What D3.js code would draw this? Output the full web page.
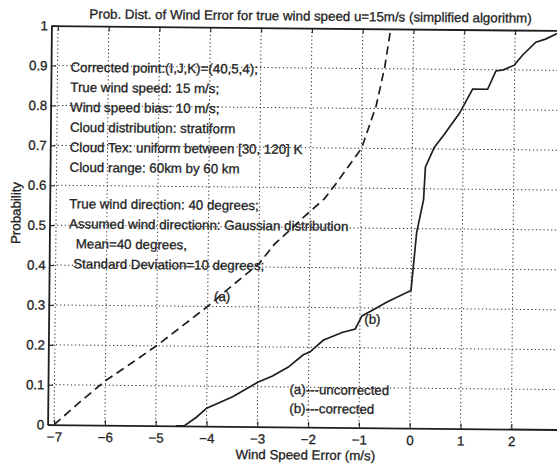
<!DOCTYPE html>
<html>
<head>
<meta charset="utf-8">
<script src="https://cdn.jsdelivr.net/npm/d3@7"></script>
<style>
  html, body { margin: 0; padding: 0; background: #fff; }
  svg { display: block; font-family: "Liberation Sans", Arial, Helvetica, sans-serif; }
  text { fill: #222; stroke: #222; stroke-width: 0.3; }
</style>
</head>
<body>
<svg id="chart" width="557" height="468"></svg>
<script>
// Cumulative probability of wind speed error
// (a) uncorrected
const errUncorrected = [-7, -6.5, -6, -5.5, -5, -4.5, -4, -3.5, -3, -2.7, -2.1, -1.72, -1.5, -1.0, -0.72, -0.56, -0.46, -0.44];
const probUncorrected = [0, 0.057, 0.111, 0.155, 0.2, 0.25, 0.3, 0.355, 0.408, 0.457, 0.529, 0.573, 0.61, 0.7, 0.807, 0.904, 0.99, 1.0];

// (b) corrected
const errCorrected = [-4.6, -4.44, -4.2, -4.0, -3.49, -3.0, -2.71, -2.4, -2.11, -1.98, -1.72, -1.35, -1.09, -0.96, -0.73, -0.46, 0, 0.1, 0.23, 0.26, 0.43, 0.62, 0.92, 1.175, 1.47, 1.63, 1.78, 1.99, 2.15, 2.41, 2.6, 2.79, 2.95];
const probCorrected = [0, 0, 0.022, 0.045, 0.074, 0.111, 0.127, 0.15, 0.181, 0.188, 0.218, 0.238, 0.247, 0.28, 0.296, 0.316, 0.345, 0.49, 0.573, 0.654, 0.704, 0.736, 0.79, 0.851, 0.851, 0.897, 0.9, 0.912, 0.937, 0.97, 0.978, 0.99, 1.0];

// Axis ticks
const xTicks = [-7, -6, -5, -4, -3, -2, -1, 0, 1, 2, 3];
const xTickLabels = [-7, -6, -5, -4, -3, -2, -1, 0, 1, 2];
const yTicks = [0, 0.1, 0.2, 0.3, 0.4, 0.5, 0.6, 0.7, 0.8, 0.9, 1];

// Texts
const titleText = "Prob. Dist. of Wind Error for true wind speed u=15m/s (simplified algorithm)";
const xLabel = "Wind Speed Error (m/s)";
const yLabel = "Probability";
const noteLines = [
  "Corrected point:(I,J,K)=(40,5,4);",
  "True wind speed: 15 m/s;",
  "Wind speed bias: 10 m/s;",
  "Cloud distribution: stratiform",
  "Cloud Tex: uniform between [30, 120] K",
  "Cloud range: 60km by 60 km",
  "",
  "True wind direction: 40 degrees;",
  "Assumed wind directionn: Gaussian distribution",
  "   Mean=40 degrees,",
  "  Standard Deviation=10 degrees;"
];
const legendLines = ["(a)---uncorrected", "(b)---corrected"];

const svg = d3.select("#chart");
// the whole printed figure sits very slightly tilted on the page
const page = svg.append("g").attr("transform", "rotate(0.55,300,228)");

const plotLeft = 49.5, plotRight = 564, plotTop = 28, plotBottom = 427;
const x = d3.scaleLinear().domain([-7.128, 3]).range([plotLeft, plotRight]);
const y = d3.scaleLinear().domain([0, 1]).range([plotBottom, plotTop]);

const ink = "#1e1e1e";
const fs = 13.3;

// Grid (dotted)
const grid = page.append("g").attr("stroke", "#2a2a2a").attr("stroke-width", 1).attr("stroke-dasharray", "1.2,2.6");
grid.selectAll("line.vx").data(xTicks).join("line")
  .attr("x1", d => x(d)).attr("x2", d => x(d))
  .attr("y1", plotTop).attr("y2", plotBottom);
grid.selectAll("line.hy").data(yTicks.filter(d => d > 0 && d < 1)).join("line")
  .attr("x1", plotLeft).attr("x2", plotRight)
  .attr("y1", d => y(d)).attr("y2", d => y(d));

// Axes with inward ticks
const xAxisB = d3.axisBottom(x).tickValues(xTickLabels).tickSizeInner(-5).tickSizeOuter(0)
  .tickPadding(7.5).tickFormat(d => d < 0 ? "\u2212" + Math.abs(d) : d);
const gx = page.append("g").attr("transform", `translate(0,${plotBottom})`).call(xAxisB);
const xAxisT = d3.axisTop(x).tickValues(xTicks).tickSizeInner(-5).tickSizeOuter(0).tickFormat("");
const gxt = page.append("g").attr("transform", `translate(0,${plotTop})`).call(xAxisT);
const yAxisL = d3.axisLeft(y).tickValues(yTicks).tickSizeInner(-5).tickSizeOuter(0)
  .tickPadding(3.5).tickFormat(d => d === 0 || d === 1 ? d3.format("d")(d) : d3.format(".1f")(d));
const gy = page.append("g").attr("transform", `translate(${plotLeft},0)`).call(yAxisL);

[gx, gxt, gy].forEach(g => {
  g.select(".domain").attr("stroke", ink).attr("stroke-width", 1.8);
  g.selectAll(".tick line").attr("stroke", ink).attr("stroke-width", 1.1);
  g.selectAll(".tick text").attr("fill", ink).attr("font-size", fs)
    .attr("font-family", "'Liberation Sans', Arial, sans-serif");
});

// Curves
const line = d3.line().x(d => x(d[0])).y(d => y(d[1]));
page.append("clipPath").attr("id", "plotclip").append("rect")
  .attr("x", plotLeft).attr("y", plotTop - 1)
  .attr("width", plotRight - plotLeft).attr("height", plotBottom - plotTop + 2);

page.append("path")
  .datum(errUncorrected.map((e, i) => [e, probUncorrected[i]]))
  .attr("d", line).attr("fill", "none").attr("stroke", ink)
  .attr("stroke-width", 1.7).attr("stroke-dasharray", "8.5,5")
  .attr("clip-path", "url(#plotclip)");

page.append("path")
  .datum(errCorrected.map((e, i) => [e, probCorrected[i]]))
  .attr("d", line).attr("fill", "none").attr("stroke", ink)
  .attr("stroke-width", 1.7)
  .attr("clip-path", "url(#plotclip)");

// Title and axis labels
page.append("text").attr("x", 308.5).attr("y", 20.5).attr("text-anchor", "middle")
  .attr("font-size", fs).text(titleText);
page.append("text").attr("x", 307.5).attr("y", 459.5).attr("text-anchor", "middle")
  .attr("font-size", fs).text(xLabel);
page.append("text").attr("transform", "translate(20.4,215.7) rotate(-90)")
  .attr("text-anchor", "middle").attr("font-size", fs).text(yLabel);

// Notes block
const notes = page.append("g").attr("font-size", fs);
let rowY = 74;
noteLines.forEach(s => {
  if (!s) { rowY += 16.5; return; }
  const lead = s.length - s.trimStart().length;
  notes.append("text").attr("x", 69 + lead * 2.3).attr("y", rowY).text(s.trim());
  rowY += 20;
});

// Curve tags and legend
page.append("text").attr("x", 214.7).attr("y", 301.7).attr("font-size", fs).text("(a)");
page.append("text").attr("x", 365.2).attr("y", 323.1).attr("font-size", fs).text("(b)");
legendLines.forEach((s, i) => {
  page.append("text").attr("x", 291).attr("y", 394.1 + 19 * i).attr("font-size", fs).text(s);
});
</script>
</body>
</html>
